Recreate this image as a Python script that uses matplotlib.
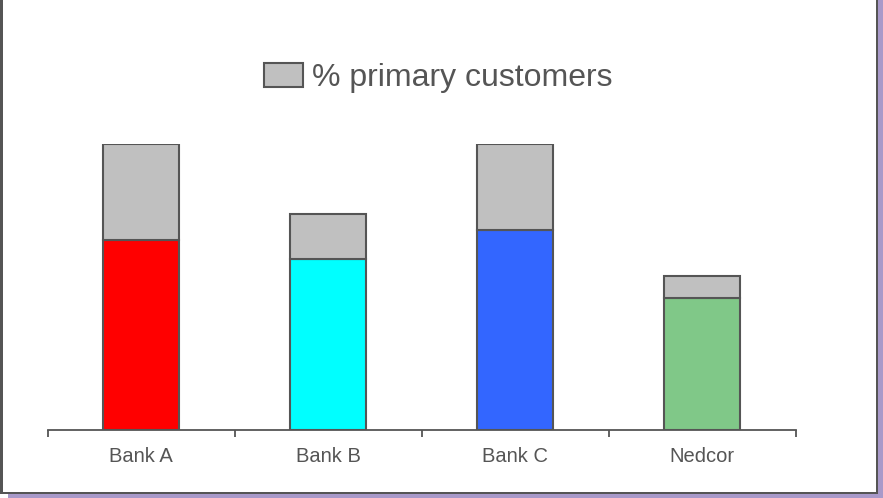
import matplotlib
matplotlib.use("Agg")
import matplotlib.pyplot as plt
from matplotlib.patches import Rectangle
import numpy as np

plt.rcParams['font.family'] = ['Liberation Sans', 'DejaVu Sans']

banks = ["Bank A", "Bank B", "Bank C", "Nedcor"]
base_values = [66.4, 59.8, 69.9, 46.2]
primary_values = [33.6, 15.7, 30.1, 7.6]
bank_colors = ["#FF0000", "#00FFFF", "#3366FF", "#80C888"]
legend_label = "% primary customers"

W, H = 883, 498
fig = plt.figure(figsize=(W / 100, H / 100), dpi=100)

# frame overlay
bg = fig.add_axes([0, 0, 1, 1], zorder=-1)
bg.set_xlim(0, W)
bg.set_ylim(H, 0)
bg.axis("off")
shadow = "#A899C9"
border = "#555555"
bg.add_patch(Rectangle((878, 0), 5, H, color=shadow, lw=0))
bg.add_patch(Rectangle((8, 494), W - 8, 4, color=shadow, lw=0))
bg.add_patch(Rectangle((0, 0), 2.5, 494, color=border, lw=0))
bg.add_patch(Rectangle((875.5, 0), 2.5, 494, color=border, lw=0))
bg.add_patch(Rectangle((0, 491.5), 878, 2.5, color=border, lw=0))

ax = fig.add_axes([47.5 / W, 68 / H, 748 / W, 286 / H])
x = np.arange(len(banks))
width = 76 / 187
ax.bar(x, base_values, width, color=bank_colors, edgecolor=border, linewidth=1.5, zorder=3)
ax.bar(x, primary_values, width, bottom=base_values, color="#C0C0C0",
       edgecolor=border, linewidth=1.5, zorder=3, label=legend_label)

ax.set_xlim(-0.5, len(banks) - 0.5)
ax.set_ylim(0, 100)
for s in ["top", "right", "left"]:
    ax.spines[s].set_visible(False)
ax.spines["bottom"].set_color(border)
ax.spines["bottom"].set_linewidth(1.3)
ax.set_yticks([])
ax.set_xticks(x)
ax.set_xticklabels(banks, fontsize=14.5, color="#555555")
ax.tick_params(axis="x", which="major", length=0, pad=12)
ax.set_xticks(np.arange(-0.5, len(banks)), minor=True)
ax.tick_params(axis="x", which="minor", length=5, width=1.3, color=border, direction="out")
ax.patch.set_alpha(0)

leg = fig.legend(loc="center", bbox_to_anchor=(438.5 / W, 1 - 78 / H), frameon=False,
                 fontsize=23, handlelength=1.22, handleheight=0.75, handletextpad=0.28,
                 borderpad=0, borderaxespad=0)
for t in leg.get_texts():
    t.set_color("#555555")

fig.savefig("out.png", dpi=100)
